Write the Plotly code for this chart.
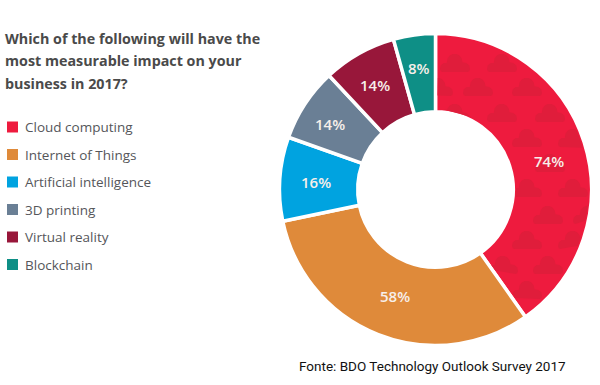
import math
import plotly.graph_objects as go

categories = ["Cloud computing", "Internet of Things", "Artificial intelligence", "3D printing", "Virtual reality", "Blockchain"]
values = [74, 58, 16, 14, 14, 8]
colors = ["#EE1B3E", "#DF8A3A", "#00A3E0", "#6A7F95", "#98173A", "#0E8F86"]
title_lines = ["Which of the following will have the", "most measurable impact on your", "business in 2017?"]
source = "Fonte: BDO Technology Outlook Survey 2017"
W, H = 600, 385
CX, CY, R_OUT, R_IN = 435.5, 189.5, 154.5, 79.5
R_DOMAIN = 156.0
LABEL_RADII = [117, 114, 120, 124, 121, 123]
LABEL_ANGLE_SHIFT = [3.5, -0.9, -0.3, -1.3, -0.6, 0.3]
SLICE_END = 360 * values[0] / sum(values)
cloud_centres = [(455, 63), (502, 63), (438, 87), (478, 87), (527, 87), (455, 113), (502, 113), (550, 113),
                 (527, 138), (573, 138), (550, 163), (527, 188), (573, 188), (548, 215), (588, 215), (527, 240), (573, 240),
                 (503, 265), (548, 265), (527, 290)]
CLOUD_OUTLINE = [(-.55, 0), (-.5, -.3), (-.35, -.5), (-.15, -.6), (.1, -.6), (.3, -.5), (.45, -.3), (.5, -.05), (.75, 0),
                 (.95, .15), (1, .4), (.95, .55), (.85, .6), (-.85, .6), (-.95, .55), (-1, .4), (-.95, .15), (-.75, 0)]

def px(x): return x / W
def py(y): return 1 - y / H

def cloud_path(cx, cy, s=15):
    pts = []
    for dx, dy in CLOUD_OUTLINE:
        x, y = cx + dx * s, cy + dy * s
        r = math.hypot(x - CX, y - CY)
        a = math.degrees(math.atan2(x - CX, CY - y)) % 360
        if a > 300:
            a = 0
        r = min(max(r, R_IN + 1), R_OUT - 1.5)
        a = min(max(a, 1.2), SLICE_END - 1.2)
        t = math.radians(a)
        pts.append((CX + r * math.sin(t), CY - r * math.cos(t)))
    return "M" + " L".join(f"{px(x):.4f},{py(y):.4f}" for x, y in pts) + " Z"

fig = go.Figure(go.Pie(
    values=values, labels=categories, sort=False, direction="clockwise", rotation=0,
    hole=(R_IN - 1.75) / R_DOMAIN, textinfo="none", hoverinfo="label+value",
    marker=dict(colors=colors, line=dict(color="white", width=3.5)),
    domain=dict(x=[px(CX - R_DOMAIN), px(CX + R_DOMAIN)], y=[py(CY + R_DOMAIN), py(CY - R_DOMAIN)]),
    showlegend=False,
))
shapes = [dict(type="path", xref="paper", yref="paper", path=cloud_path(x, y), fillcolor="#E01D3B", line_width=0, layer="above") for x, y in cloud_centres]
annotations = []
running = 0
for v, radius, shift in zip(values, LABEL_RADII, LABEL_ANGLE_SHIFT):
    mid = math.radians(360 * (running + v / 2) / sum(values) + shift)
    running += v
    annotations.append(dict(text=f"{v}%", x=px(CX + radius * math.sin(mid)), y=py(CY - radius * math.cos(mid)), xref="paper", yref="paper", xanchor="center", yanchor="middle", showarrow=False, font=dict(family="Open Sans", size=15, color="#F7EFEA", weight=600)))
for i, line in enumerate(title_lines):
    annotations.append(dict(text=f"<b>{line}</b>", x=px(3), y=py(38.5 + i * 22.3), xref="paper", yref="paper", xanchor="left", yanchor="middle", showarrow=False, font=dict(family="Open Sans", size=14.3, color="#4A4A4A")))
for i, (c, col) in enumerate(zip(categories, colors)):
    y = 127 + i * 27.5
    shapes.append(dict(type="rect", xref="paper", yref="paper", x0=px(7), x1=px(18), y0=py(y - 5.5), y1=py(y + 5.5), fillcolor=col, line_width=0))
    annotations.append(dict(text=c, x=px(23), y=py(y), xref="paper", yref="paper", xanchor="left", yanchor="middle", showarrow=False, font=dict(family="Open Sans", size=13.5, color="#55565A")))
annotations.append(dict(text=source, x=px(297), y=py(366), xref="paper", yref="paper", xanchor="left", yanchor="middle", showarrow=False, font=dict(family="Roboto", size=13.5, color="#111111")))
fig.update_layout(width=W, height=H, margin=dict(l=0, r=0, t=0, b=0), paper_bgcolor="white", shapes=shapes, annotations=annotations)
fig.write_html("out.html", post_script="document.body.style.margin='0';", config=dict(displayModeBar=False))
